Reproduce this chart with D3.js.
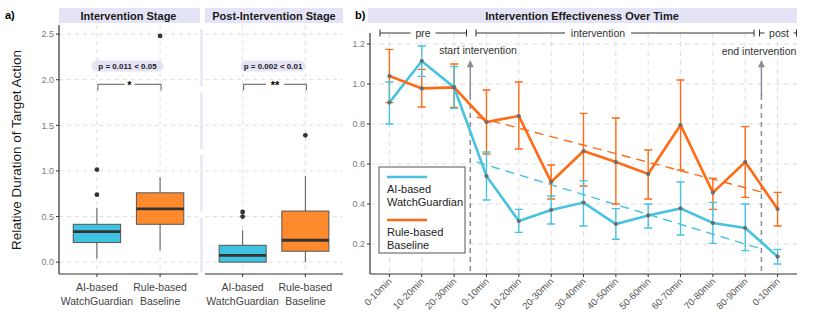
<!DOCTYPE html>
<html><head><meta charset="utf-8">
<script src="https://cdn.jsdelivr.net/npm/d3@7"></script>
<style>body{margin:0;background:#fff}svg{display:block;font-family:"Liberation Sans",Arial,sans-serif}</style>
</head><body><svg id="c" width="831" height="326"></svg>
<script>
// ---------- DATA ----------
const groups = ["AI-based\nWatchGuardian", "Rule-based\nBaseline"];
const stages = ["Intervention Stage", "Post-Intervention Stage"];
const yTicksA = [0.0, 0.5, 1.0, 1.5, 2.0, 2.5];
// [lowWhisker, q1, median, q3, highWhisker]
const boxIntervention = [[0.04, 0.215, 0.335, 0.415, 0.595], [0.13, 0.415, 0.585, 0.76, 0.93]];
const boxPost = [[0.0, 0.0, 0.075, 0.185, 0.35], [0.0, 0.12, 0.24, 0.56, 0.945]];
const outInterv = [[0.74, 1.015], [2.48]];
const outPost = [[0.5, 0.55], [1.39]];
const pLabels = ["p = 0.011 < 0.05", "p = 0.002 < 0.01"];
const sigStars = ["*", "**"];

const timeLabels = ["0-10min","10-20min","20-30min","0-10min","10-20min","20-30min","30-40min","40-50min","50-60min","60-70min","70-80min","80-90min","0-10min"];
const yTicksB = [0.2, 0.4, 0.6, 0.8, 1.0, 1.2];
const aiMean  = [0.907, 1.115, 0.983, 0.54, 0.315, 0.37, 0.407, 0.30, 0.343, 0.378, 0.305, 0.28, 0.137];
const aiLow   = [0.80, 1.038, 0.878, 0.42, 0.258, 0.30, 0.29, 0.224, 0.28, 0.245, 0.203, 0.167, 0.10];
const aiHigh  = [1.01, 1.19, 1.087, 0.66, 0.373, 0.44, 0.517, 0.377, 0.40, 0.51, 0.408, 0.40, 0.173];
const ruleMean = [1.04, 0.978, 0.983, 0.81, 0.84, 0.51, 0.665, 0.61, 0.55, 0.795, 0.457, 0.61, 0.375];
const ruleLow  = [0.907, 0.885, 0.883, 0.65, 0.675, 0.425, 0.49, 0.40, 0.425, 0.57, 0.373, 0.433, 0.29];
const ruleHigh = [1.173, 1.073, 1.10, 0.97, 1.01, 0.595, 0.853, 0.83, 0.67, 1.02, 0.528, 0.787, 0.458];
// trend lines: [startIndex, endIndex], [startValue, endValue]
const trendIdx = [2.7, 11.5];
const aiTrend = [0.61, 0.175];
const ruleTrend = [0.835, 0.46];
const phaseBounds = [2.5, 11.5]; // start / end intervention (between categories)
const legendLabels = [["AI-based","WatchGuardian"],["Rule-based","Baseline"]];

// ---------- STYLE ----------
const BLUE = "#3fc1e0", ORANGE_FILL = "#ff8a2e", BLUE_LINE = "#46c2e2", ORANGE = "#ff6a14";
const STRIP = "#e4e4f6", GRID = "#dedede", AXIS = "#333", TICK = "#7a7a7a";

const svg = d3.select("#c");

// ---------- PANEL A ----------
const yA = d3.scaleLinear().domain([-0.13, 2.6]).range([274, 25]);
const panelsA = [{x0: 59, x1: 198, box: boxIntervention, out: outInterv}, {x0: 205, x1: 343, box: boxPost, out: outPost}];

svg.append("text").attr("x", 5).attr("y", 19).attr("font-size", 11).attr("font-weight", "bold").text("a)");
svg.append("text").attr("transform", "translate(21,150) rotate(-90)").attr("text-anchor", "middle")
  .attr("font-size", 13.5).attr("fill", "#1a1a1a").text("Relative Duration of Target Action");

// lavender separator
svg.append("line").attr("x1", 201.5).attr("x2", 201.5).attr("y1", 29).attr("y2", 272)
  .attr("stroke", STRIP).attr("stroke-width", 2.2).attr("stroke-dasharray", "57,6");

panelsA.forEach((p, i) => {
  const xc = d3.scalePoint().domain(groups).range([p.x0, p.x1]).padding(0.6);
  const bw = xc.step() * 0.75;
  const g = svg.append("g");
  // strip
  g.append("rect").attr("x", p.x0).attr("y", 8).attr("width", p.x1 - p.x0 + (i === 0 ? 2 : 0)).attr("height", 15).attr("fill", STRIP);
  g.append("text").attr("x", (p.x0 + p.x1) / 2).attr("y", 19.5).attr("text-anchor", "middle")
    .attr("font-size", 11).attr("font-weight", "bold").attr("fill", "#1a1a1a").text(stages[i]);
  // grid
  yTicksA.forEach(t => g.append("line").attr("x1", p.x0).attr("x2", p.x1).attr("y1", yA(t)).attr("y2", yA(t))
    .attr("stroke", GRID).attr("stroke-dasharray", "4,4"));
  groups.forEach(gr => g.append("line").attr("x1", xc(gr)).attr("x2", xc(gr)).attr("y1", 25).attr("y2", 274)
    .attr("stroke", GRID).attr("stroke-dasharray", "4,4"));
  // boxes
  groups.forEach((gr, j) => {
    const s = p.box[j], cx = xc(gr);
    g.append("line").attr("x1", cx).attr("x2", cx).attr("y1", yA(s[0])).attr("y2", yA(s[1])).attr("stroke", "#555");
    g.append("line").attr("x1", cx).attr("x2", cx).attr("y1", yA(s[3])).attr("y2", yA(s[4])).attr("stroke", "#555");
    g.append("rect").attr("x", cx - bw / 2).attr("width", bw).attr("y", yA(s[3])).attr("height", yA(s[1]) - yA(s[3]))
      .attr("fill", j === 0 ? BLUE : ORANGE_FILL).attr("stroke", "#555").attr("stroke-width", 1);
    g.append("line").attr("x1", cx - bw / 2).attr("x2", cx + bw / 2).attr("y1", yA(s[2])).attr("y2", yA(s[2]))
      .attr("stroke", "#333").attr("stroke-width", 2.8);
    p.out[j].forEach(v => g.append("circle").attr("cx", cx).attr("cy", yA(v)).attr("r", 2.4).attr("fill", "#333"));
  });
  // significance bracket
  const bx0 = xc(groups[0]) + 1, bx1 = xc(groups[1]) + 1, by = yA(1.95), mid = (bx0 + bx1) / 2;
  const gap = i === 0 ? 5 : 9;
  g.append("path").attr("d", `M${bx0},${by + 6}V${by}H${mid - gap}M${mid + gap},${by}H${bx1}V${by + 6}`)
    .attr("fill", "none").attr("stroke", "#444").attr("stroke-width", 0.9);
  g.append("text").attr("x", mid).attr("y", by + 5).attr("text-anchor", "middle").attr("font-size", 11)
    .attr("font-weight", "bold").text(sigStars[i]);
  // p label pill
  const py = yA(2.15);
  const pt = g.append("text").attr("x", mid - 2).attr("y", py + 3).attr("text-anchor", "middle").attr("font-size", 8)
    .attr("font-weight", "bold").attr("fill", "#1a1a1a").text(pLabels[i]);
  const w = pt.node().getComputedTextLength() + (i === 0 ? 14 : 6);
  g.insert("rect", "text").attr("x", mid - 2 - w / 2).attr("y", py - 5.5).attr("width", w).attr("height", 11)
    .attr("rx", 5.5).attr("fill", STRIP);
  // axes
  g.append("line").attr("x1", p.x0).attr("x2", p.x1).attr("y1", 274).attr("y2", 274).attr("stroke", AXIS).attr("stroke-width", 1.2);
  groups.forEach(gr => {
    g.append("line").attr("x1", xc(gr)).attr("x2", xc(gr)).attr("y1", 274).attr("y2", 277).attr("stroke", AXIS);
    const lines = gr.split("\n");
    const t = g.append("text").attr("x", xc(gr)).attr("y", 291).attr("text-anchor", "middle").attr("font-size", 10.5).attr("fill", "#444");
    lines.forEach((l, k) => t.append("tspan").attr("x", xc(gr)).attr("dy", k === 0 ? 0 : 13.5).text(l));
  });
  if (i === 0) {
    g.append("line").attr("x1", p.x0).attr("x2", p.x0).attr("y1", 25).attr("y2", 274).attr("stroke", AXIS).attr("stroke-width", 1.2);
    yTicksA.forEach(t => {
      g.append("line").attr("x1", p.x0 - 3).attr("x2", p.x0).attr("y1", yA(t)).attr("y2", yA(t)).attr("stroke", AXIS);
      g.append("text").attr("x", p.x0 - 5).attr("y", yA(t) + 3.2).attr("text-anchor", "end").attr("font-size", 9)
        .attr("fill", TICK).text(t.toFixed(1));
    });
  }
});

// ---------- PANEL B ----------
const xB = d3.scalePoint().domain(d3.range(timeLabels.length)).range([370, 797]).padding(0.6);
const step = xB.step();
const xi = v => xB(0) + v * step;
const yB = d3.scaleLinear().domain([0.05, 1.255]).range([274, 33]);
const gb = svg.append("g");

svg.append("text").attr("x", 355).attr("y", 19).attr("font-size", 11).attr("font-weight", "bold").text("b)");
gb.append("rect").attr("x", 368).attr("y", 8).attr("width", 429).attr("height", 15).attr("fill", STRIP);
gb.append("text").attr("x", 582).attr("y", 19.5).attr("text-anchor", "middle").attr("font-size", 11)
  .attr("font-weight", "bold").attr("fill", "#1a1a1a").text("Intervention Effectiveness Over Time");

// grid
yTicksB.forEach(t => gb.append("line").attr("x1", 370).attr("x2", 797).attr("y1", yB(t)).attr("y2", yB(t))
  .attr("stroke", GRID).attr("stroke-dasharray", "5,4"));
timeLabels.forEach((l, i) => gb.append("line").attr("x1", xB(i)).attr("x2", xB(i)).attr("y1", 33).attr("y2", 274)
  .attr("stroke", GRID).attr("stroke-dasharray", "5,4"));

// phase lines + arrows
const ARROW = "#8a8a99";
svg.append("defs").append("marker").attr("id", "ah").attr("viewBox", "0 0 10 10").attr("refX", 9).attr("refY", 5)
  .attr("markerWidth", 8).attr("markerHeight", 7).attr("orient", "auto").attr("markerUnits", "userSpaceOnUse")
  .append("path").attr("d", "M0,0L10,5L0,10Z").attr("fill", ARROW);
phaseBounds.forEach(b => {
  const x = xi(b);
  gb.append("line").attr("x1", x).attr("x2", x).attr("y1", 95).attr("y2", 274).attr("stroke", ARROW)
    .attr("stroke-width", 1.5).attr("stroke-dasharray", "5,4");
  gb.append("line").attr("x1", x).attr("x2", x).attr("y1", 96).attr("y2", 61).attr("stroke", ARROW)
    .attr("stroke-width", 1.5).attr("marker-end", "url(#ah)");
});
gb.append("text").attr("x", 478).attr("y", 54).attr("text-anchor", "middle").attr("font-size", 10.5).attr("fill", "#333").text("start intervention");
gb.append("text").attr("x", 759).attr("y", 55).attr("text-anchor", "middle").attr("font-size", 10.5).attr("fill", "#333").text("end intervention");

// phase brackets at top
function bracket(x0, x1, tx, label, tw) {
  const y = 33;
  gb.append("path").attr("d", `M${x0},${y - 3.5}V${y + 3.5}M${x0},${y}H${tx - tw / 2 - 4}M${tx + tw / 2 + 4},${y}H${x1}M${x1},${y - 3.5}V${y + 3.5}`)
    .attr("stroke", "#333").attr("stroke-width", 1).attr("fill", "none");
  gb.append("text").attr("x", tx).attr("y", y + 4).attr("text-anchor", "middle").attr("font-size", 10.5).attr("fill", "#333").text(label);
}
bracket(380, 466.5, 423, "pre", 17);
bracket(476, 754, 598, "intervention", 58);
bracket(759.5, 796.5, 779, "post", 21);

// trend lines
[[aiTrend, BLUE_LINE], [ruleTrend, ORANGE]].forEach(([tr, c]) => {
  gb.append("line").attr("x1", xi(trendIdx[0])).attr("x2", xi(trendIdx[1])).attr("y1", yB(tr[0])).attr("y2", yB(tr[1]))
    .attr("stroke", c).attr("stroke-width", 1.4).attr("stroke-dasharray", "9,6");
});

// error bars
function errBars(lo, hi, c) {
  lo.forEach((l, i) => {
    const x = xB(i);
    gb.append("path").attr("d", `M${x - 4},${yB(hi[i])}H${x + 4}M${x},${yB(hi[i])}V${yB(l)}M${x - 4},${yB(l)}H${x + 4}`)
      .attr("stroke", c).attr("stroke-width", 1.4).attr("fill", "none");
  });
}
errBars(ruleLow, ruleHigh, ORANGE);
errBars(aiLow, aiHigh, BLUE_LINE);

const line = d3.line().x((d, i) => xB(i)).y(d => yB(d));
gb.append("path").datum(aiMean).attr("d", line).attr("fill", "none").attr("stroke", BLUE_LINE).attr("stroke-width", 2.6);
gb.append("path").datum(ruleMean).attr("d", line).attr("fill", "none").attr("stroke", ORANGE).attr("stroke-width", 2.6);
[aiMean, ruleMean].forEach(arr => arr.forEach((v, i) =>
  gb.append("circle").attr("cx", xB(i)).attr("cy", yB(v)).attr("r", 2.1).attr("fill", "#6b6b6b")));

// axes
gb.append("line").attr("x1", 370).attr("x2", 370).attr("y1", 33).attr("y2", 274).attr("stroke", AXIS).attr("stroke-width", 1.2);
gb.append("line").attr("x1", 370).attr("x2", 797).attr("y1", 274).attr("y2", 274).attr("stroke", AXIS).attr("stroke-width", 1.2);
yTicksB.forEach(t => {
  gb.append("line").attr("x1", 367).attr("x2", 370).attr("y1", yB(t)).attr("y2", yB(t)).attr("stroke", AXIS);
  gb.append("text").attr("x", 365).attr("y", yB(t) + 3.2).attr("text-anchor", "end").attr("font-size", 9).attr("fill", TICK).text(t.toFixed(1));
});
timeLabels.forEach((l, i) => {
  gb.append("line").attr("x1", xB(i)).attr("x2", xB(i)).attr("y1", 274).attr("y2", 277).attr("stroke", AXIS);
  gb.append("text").attr("transform", `translate(${xB(i) + 3},${282}) rotate(-45)`).attr("text-anchor", "end")
    .attr("font-size", 9.5).attr("fill", "#555").text(l);
});

// legend
const lg = gb.append("g");
lg.append("rect").attr("x", 379).attr("y", 167).attr("width", 86).attr("height", 86).attr("fill", "#fff").attr("stroke", "#555");
[[BLUE_LINE, 177], [ORANGE, 220]].forEach(([c, y], k) => {
  lg.append("line").attr("x1", 387).attr("x2", 427).attr("y1", y).attr("y2", y).attr("stroke", c).attr("stroke-width", 2.6);
  legendLabels[k].forEach((t, j) => lg.append("text").attr("x", 387).attr("y", y + 16 + j * 12.5)
    .attr("font-size", 11).attr("fill", "#222").text(t));
});
</script></body></html>
